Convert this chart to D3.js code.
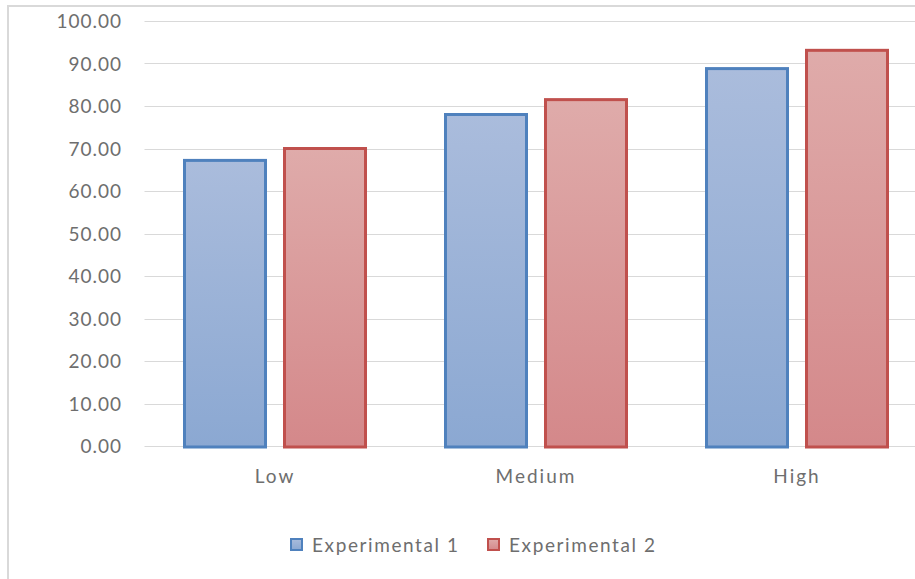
<!DOCTYPE html>
<html><head><meta charset="utf-8">
<script src="https://cdn.jsdelivr.net/npm/d3@7/dist/d3.min.js"></script>
<style>body{margin:0;background:#fff}svg{display:block}</style>
</head><body>
<svg id="chart" width="915" height="579"></svg>
<script>
const categories = ["Low", "Medium", "High"];
const seriesNames = ["Experimental 1", "Experimental 2"];
const exp1 = [67.2, 78.0, 88.8];
const exp2 = [70.0, 81.5, 93.1];
const yTicks = [0, 10, 20, 30, 40, 50, 60, 70, 80, 90, 100];

(function () {
const svg = d3.select("#chart");
const W = 915, H = 579;
const font = "Lato, 'Open Sans', sans-serif";
const textColor = "#6e6e6e";
const strokes = ["#4f81bd", "#c0504d"];
const gradTop = ["#aabcdc", "#dfabaa"];
const gradBot = ["#8ba8d2", "#d4888a"];

const defs = svg.append("defs");
strokes.forEach((c, i) => {
  const g = defs.append("linearGradient").attr("id", "g" + i)
    .attr("x1", 0).attr("y1", 0).attr("x2", 0).attr("y2", 1);
  g.append("stop").attr("offset", "0%").attr("stop-color", gradTop[i]);
  g.append("stop").attr("offset", "100%").attr("stop-color", gradBot[i]);
});

// outer chart border
svg.append("rect").attr("x", 8).attr("y", 6).attr("width", 940).attr("height", 600)
  .attr("fill", "none").attr("stroke", "#d9d9d9").attr("stroke-width", 2);

const pLeft = 144.5, pRight = 927.5, pTop = 21, pBottom = 446;
const x = d3.scaleBand().domain(categories).range([pLeft, pRight]).paddingInner(0).paddingOuter(0);
const y = d3.scaleLinear().domain([0, 100]).range([pBottom, pTop]);
const x1 = d3.scaleBand().domain([0, 1]).range([40, x.bandwidth() - 40]).paddingInner(0.19).paddingOuter(0);

// gridlines
svg.append("g").selectAll("line").data(yTicks).join("line")
  .attr("x1", pLeft).attr("x2", W).attr("y1", d => Math.round(y(d)) + 0.5).attr("y2", d => Math.round(y(d)) + 0.5)
  .attr("stroke", "#d9d9d9").attr("stroke-width", 1);

// y labels
const yAxis = d3.axisLeft(y).tickValues(yTicks).tickFormat(d3.format(".2f")).tickSize(0).tickPadding(0);
const ya = svg.append("g").attr("transform", `translate(122,0)`).call(yAxis);
ya.select(".domain").remove();
ya.selectAll("text").attr("font-family", font).attr("font-size", 19).attr("fill", textColor)
  .attr("letter-spacing", 1).attr("dy", "0.35em");

// bars
const data = categories.map((c, i) => ({c, vals: [exp1[i], exp2[i]]}));
const groups = svg.append("g").selectAll("g").data(data).join("g")
  .attr("transform", d => `translate(${x(d.c)},0)`);
groups.selectAll("rect").data(d => d.vals.map((v, k) => ({v, k}))).join("rect")
  .attr("x", d => x1(d.k)).attr("width", x1.bandwidth())
  .attr("y", d => y(d.v)).attr("height", d => y(0) - y(d.v) + 1)
  .attr("fill", d => `url(#g${d.k})`).attr("stroke", d => strokes[d.k]).attr("stroke-width", 3);

// x labels
const xAxis = d3.axisBottom(x).tickSize(0).tickPadding(0);
const xa = svg.append("g").attr("transform", `translate(0,476)`).call(xAxis);
xa.select(".domain").remove();
xa.selectAll("text").attr("font-family", font).attr("font-size", 19).attr("fill", textColor)
  .attr("letter-spacing", 2).attr("dy", "0.35em");

// legend
const legX = [290, 487];
const leg = svg.append("g").selectAll("g").data(seriesNames).join("g")
  .attr("transform", (d, i) => `translate(${legX[i]},545)`);
leg.append("rect").attr("x", 1).attr("y", -6).attr("width", 11).attr("height", 11)
  .attr("fill", (d, i) => `url(#g${i})`).attr("stroke", (d, i) => strokes[i]).attr("stroke-width", 2);
leg.append("text").attr("x", 22).attr("y", 0).attr("dy", "0.35em")
  .attr("font-family", font).attr("font-size", 19).attr("fill", textColor)
  .attr("letter-spacing", 1.6).text(d => d);
})();
</script>
</body></html>
